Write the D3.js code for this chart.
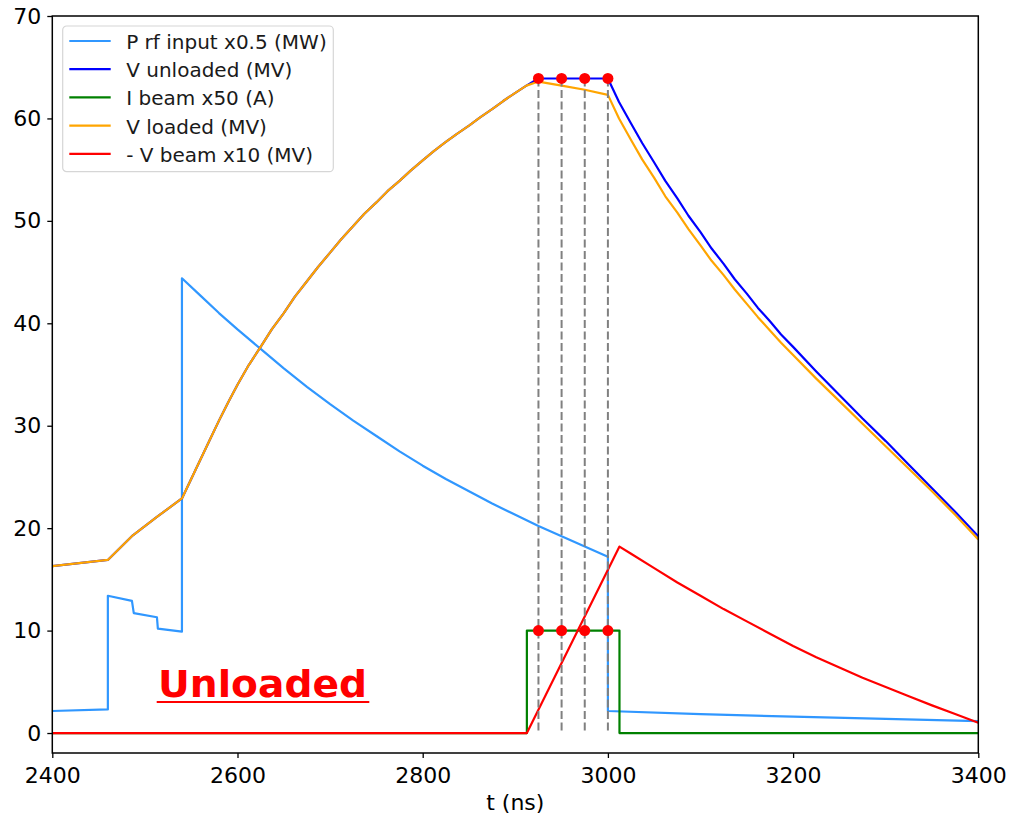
<!DOCTYPE html>
<meta charset="utf-8">
<script src="https://d3js.org/d3.v7.min.js"></script>
<style>
  body { margin: 0; background: #fff; }
  #chart text { font-family: "DejaVu Sans", sans-serif; }
</style>
<div id="chart"></div>
<script>
// ---- data: [t (ns), value] ----
const pRfInput = [
  [2400, 2.15], [2460, 2.3], [2460, 13.4], [2486, 12.9], [2488, 11.7],
  [2513, 11.3], [2514, 10.2], [2540, 9.9], [2540, 44.4], [2560, 42.7],
  [2580, 41.0], [2600, 39.4], [2625, 37.5], [2650, 35.6], [2675, 33.8],
  [2700, 32.1], [2725, 30.5], [2750, 29.0], [2775, 27.5], [2800, 26.1],
  [2825, 24.8], [2850, 23.6], [2875, 22.4], [2900, 21.3], [2925, 20.2],
  [2950, 19.2], [2975, 18.2], [3000, 17.2], [3000, 2.15], [3100, 1.85],
  [3200, 1.6], [3300, 1.38], [3400, 1.17]
];
const vUnloaded = [
  [2400, 16.3], [2460, 16.9], [2487, 19.3], [2513, 21.1], [2540, 22.9],
  [2550, 24.8], [2560, 26.7], [2570, 28.6], [2580, 30.5], [2590, 32.3],
  [2600, 34.0], [2612, 35.9], [2625, 37.7], [2637, 39.4], [2650, 41.0],
  [2662, 42.6], [2675, 44.1], [2687, 45.5], [2700, 46.9], [2712, 48.2],
  [2725, 49.5], [2737, 50.7], [2750, 51.8], [2762, 52.9], [2775, 53.9],
  [2787, 54.9], [2800, 55.9], [2812, 56.8], [2825, 57.7], [2837, 58.5],
  [2850, 59.3], [2862, 60.1], [2875, 60.9], [2887, 61.7], [2900, 62.5],
  [2912, 63.2], [2925, 63.9], [3000, 63.9], [3012, 61.6], [3025, 59.5],
  [3037, 57.6], [3050, 55.7], [3062, 53.9], [3075, 52.2], [3087, 50.5],
  [3100, 48.9], [3112, 47.3], [3125, 45.8], [3137, 44.3], [3150, 42.9],
  [3162, 41.5], [3175, 40.2], [3187, 38.9], [3200, 37.7], [3225, 35.3],
  [3250, 33.0], [3275, 30.7], [3300, 28.5], [3325, 26.2], [3350, 23.9],
  [3375, 21.6], [3400, 19.2]
];
const iBeam = [
  [2400, 0], [2912.5, 0], [2912.5, 10], [3012.5, 10], [3012.5, 0], [3400, 0]
];
const vLoaded = [
  [2400, 16.3], [2460, 16.9], [2487, 19.3], [2513, 21.1], [2540, 22.9],
  [2550, 24.8], [2560, 26.7], [2570, 28.6], [2580, 30.5], [2590, 32.3],
  [2600, 34.0], [2612, 35.9], [2625, 37.7], [2637, 39.4], [2650, 41.0],
  [2662, 42.6], [2675, 44.1], [2687, 45.5], [2700, 46.9], [2712, 48.2],
  [2725, 49.5], [2737, 50.7], [2750, 51.8], [2762, 52.9], [2775, 53.9],
  [2787, 54.9], [2800, 55.9], [2812, 56.8], [2825, 57.7], [2837, 58.5],
  [2850, 59.3], [2862, 60.1], [2875, 60.9], [2887, 61.7], [2900, 62.5],
  [2912, 63.2], [2925, 63.6], [2950, 63.2], [2975, 62.8], [3000, 62.3],
  [3012, 60.0], [3025, 57.9], [3037, 56.0], [3050, 54.2], [3062, 52.4],
  [3075, 50.8], [3087, 49.2], [3100, 47.6], [3112, 46.1], [3125, 44.7],
  [3137, 43.3], [3150, 41.9], [3162, 40.6], [3175, 39.3], [3187, 38.1],
  [3200, 36.9], [3225, 34.6], [3250, 32.4], [3275, 30.2], [3300, 28.0],
  [3325, 25.8], [3350, 23.6], [3375, 21.3], [3400, 18.9]
];
const vBeam = [
  [2400, 0], [2912.5, 0], [3012.5, 18.2], [3025, 17.5], [3050, 16.1],
  [3075, 14.7], [3100, 13.4], [3125, 12.1], [3150, 10.9], [3175, 9.7],
  [3200, 8.5], [3225, 7.4], [3250, 6.4], [3275, 5.4], [3300, 4.5],
  [3325, 3.6], [3350, 2.7], [3375, 1.85], [3400, 1.0]
];
// sample times marked with dots + dashed lines
const sampleTimes = [2925, 2950, 2975, 3000];
const sampleV = 63.9;
const sampleI = 10;

const xTicks = [2400, 2600, 2800, 3000, 3200, 3400];
const yTicks = [0, 10, 20, 30, 40, 50, 60, 70];

const series = [
  {name: "P rf input x0.5 (MW)", data: pRfInput, color: "#3097ff"},
  {name: "V unloaded (MV)", data: vUnloaded, color: "#0000ff"},
  {name: "I beam x50 (A)", data: iBeam, color: "#008000"},
  {name: "V loaded (MV)", data: vLoaded, color: "#ffa500"},
  {name: "- V beam x10 (MV)", data: vBeam, color: "#ff0000"}
];

// ---- layout ----
const W = 1010, H = 818;
const margin = {top: 16, left: 52.3, right: 31.7, bottom: 65};
const width = W - margin.left - margin.right,
      height = H - margin.top - margin.bottom;

const svg = d3.select("#chart").append("svg")
    .attr("width", W).attr("height", H);
svg.append("rect").attr("width", W).attr("height", H).attr("fill", "#fff");

const g = svg.append("g")
    .attr("transform", `translate(${margin.left},${margin.top})`);

const x = d3.scaleLinear().domain([2400, 3400]).range([0, width]);
const y = d3.scaleLinear().domain([-1.95, 70]).range([height, 0]);

// clip so lines stay in the axes
g.append("clipPath").attr("id", "clip")
  .append("rect").attr("width", width).attr("height", height);

const plot = g.append("g").attr("clip-path", "url(#clip)");

const line = d3.line().x(d => x(d[0])).y(d => y(d[1]));

series.forEach(s => {
  plot.append("path")
    .datum(s.data)
    .attr("d", line)
    .attr("fill", "none")
    .attr("stroke", s.color)
    .attr("stroke-width", 2.2)
    .attr("stroke-linejoin", "round");
});

// dashed verticals at sample times
plot.selectAll(".vline")
  .data(sampleTimes)
  .join("line")
    .attr("x1", d => x(d)).attr("x2", d => x(d))
    .attr("y1", y(sampleV)).attr("y2", y(0))
    .attr("stroke", "#808080")
    .attr("stroke-width", 2)
    .attr("stroke-dasharray", "8,3.5");

// red dots
[sampleV, sampleI].forEach(v => {
  plot.selectAll(null)
    .data(sampleTimes)
    .join("circle")
      .attr("cx", d => x(d))
      .attr("cy", y(v))
      .attr("r", 5.5)
      .attr("fill", "#ff0000");
});

// axes
const xAxis = g.append("g")
    .attr("transform", `translate(0,${height})`)
    .call(d3.axisBottom(x).tickValues(xTicks).tickFormat(d3.format("d"))
      .tickSize(5).tickPadding(9));
const yAxis = g.append("g")
    .call(d3.axisLeft(y).tickValues(yTicks).tickSize(5).tickPadding(6));
[xAxis, yAxis].forEach(a => {
  a.select(".domain").remove();
  a.selectAll("text").attr("font-size", 22).attr("fill", "#000")
    .attr("font-family", "DejaVu Sans");
  a.selectAll("line").attr("stroke", "#000").attr("stroke-width", 1.3);
});

// frame
g.append("rect")
  .attr("width", width).attr("height", height)
  .attr("fill", "none").attr("stroke", "#000").attr("stroke-width", 1.5);

// x label
g.append("text")
  .attr("x", width / 2).attr("y", height + 57)
  .attr("text-anchor", "middle")
  .attr("font-size", 22)
  .text("t (ns)");

// legend
const legend = svg.append("g").attr("transform", "translate(62.7,26)");
legend.append("rect")
  .attr("width", 270.6).attr("height", 145.7)
  .attr("rx", 4)
  .attr("fill", "#fff").attr("fill-opacity", 0.8)
  .attr("stroke", "#d6d6d6").attr("stroke-width", 1.2);
series.forEach((s, i) => {
  const yy = 15 + i * 28.2;
  legend.append("line")
    .attr("x1", 6.6).attr("x2", 48).attr("y1", yy).attr("y2", yy)
    .attr("stroke", s.color).attr("stroke-width", 2.2);
  legend.append("text")
    .attr("x", 63.5).attr("y", yy + 8)
    .attr("font-size", 20)
    .attr("fill", "#1a1a1a")
    .text(s.name);
});

// "Unloaded" annotation
svg.append("text")
  .attr("x", 158).attr("y", 697)
  .attr("font-family", "'Open Sans', 'Liberation Sans', sans-serif")
  .attr("font-weight", 700)
  .attr("font-size", 38)
  .attr("fill", "#ff0000")
  .attr("textLength", 209)
  .attr("lengthAdjust", "spacingAndGlyphs")
  .text("Unloaded");
svg.append("line")
  .attr("x1", 156.7).attr("x2", 369.3)
  .attr("y1", 702).attr("y2", 702)
  .attr("stroke", "#ff0000").attr("stroke-width", 2);
</script>
